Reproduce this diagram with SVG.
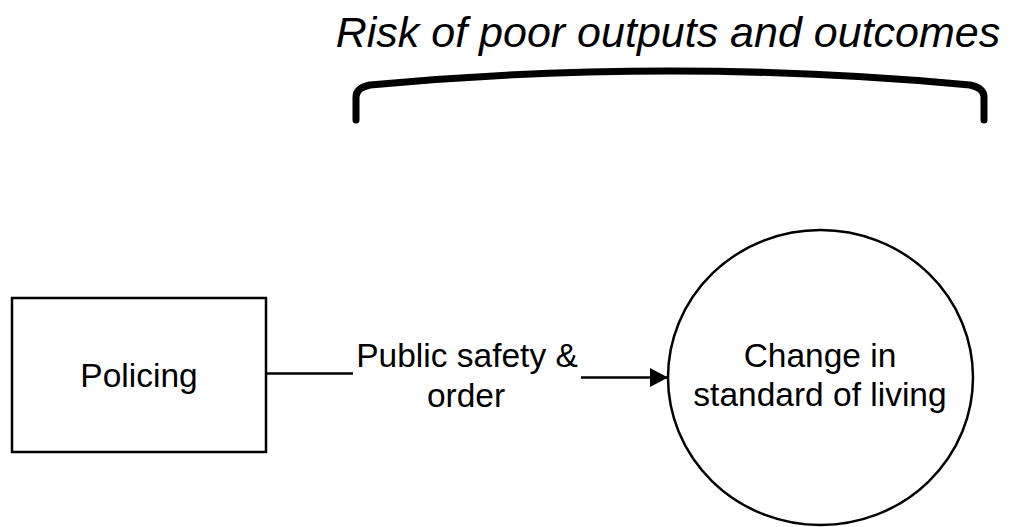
<svg xmlns="http://www.w3.org/2000/svg" width="1013" height="527" viewBox="0 0 1013 527">
<style>
  .shape { fill: #ffffff; stroke: #000000; stroke-width: 2.5; }
  .lbl { font-family: "Liberation Sans", Arial, sans-serif; font-size: 33.5px; fill: #000000; text-anchor: middle; }
  .title { font-family: "Liberation Sans", Arial, sans-serif; font-size: 43px; font-style: italic; fill: #000000; text-anchor: middle; }
  .conn { fill: none; stroke: #000000; stroke-width: 2.5; }
</style>
<defs>
  <marker id="arrow" markerUnits="userSpaceOnUse" markerWidth="20" markerHeight="20" refX="18" refY="9.5" orient="auto">
    <path d="M0,0 L18,9.5 L0,19 Z" fill="#000000"/>
  </marker>
</defs>
<rect x="0" y="0" width="1013" height="527" fill="#ffffff"/>
<g id="title">
  <text class="title" x="668" y="47">Risk of poor outputs and outcomes</text>
  <path d="M356,120 L356,97 Q356,88 370,85 Q670,57 970,85 Q984,88 984,97 L984,120" fill="none" stroke="#000000" stroke-width="7" stroke-linecap="round" stroke-linejoin="round"/>
</g>
<g id="connectors">
  <path class="conn" d="M266,373.5 L353,373.5"/>
  <path class="conn" d="M581,377.5 L668,377.5" marker-end="url(#arrow)"/>
  <text class="lbl" x="467" y="366.5">Public safety &amp;</text>
  <text class="lbl" x="466" y="407">order</text>
</g>
<g id="node-policing">
  <rect class="shape" x="12" y="298" width="254" height="154"/>
  <text class="lbl" x="139" y="387">Policing</text>
</g>
<g id="node-living">
  <ellipse class="shape" cx="820.5" cy="377.5" rx="152.5" ry="147.5"/>
  <text class="lbl" x="820" y="366.5">Change in</text>
  <text class="lbl" x="820" y="406">standard of living</text>
</g>
</svg>
